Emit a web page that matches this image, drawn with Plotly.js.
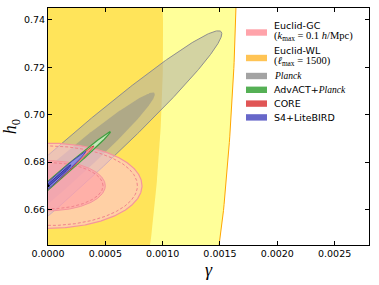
<!DOCTYPE html>
<html><head><meta charset="utf-8">
<script src="https://cdn.plot.ly/plotly-3.0.1.min.js"></script>
<style>html,body{margin:0;padding:0;background:#fff;}#chart{width:379px;height:285px;}</style>
</head><body><div id="chart"></div>
<script>
// ---- data ----
// fiducial point (gamma, h0)
const fiducial = [0, 0.67];
// contour half-axes: [d gamma, d h0] for the major and minor directions
const wlMajor2 = [0.000553, 0.30],   wlMinor2 = [0.001551, 0];
const wlMajor1 = [0.000337, 0.183],  wlMinor1 = [0.000946, 0];
const plMajor2 = [0.00151, 0.065],   plMinor2 = [0.000133, -0.00723];
const plMajor1 = [0.000928, 0.0391], plMinor1 = [0.0000812, -0.0044];
const gcMajor2 = [0.00082, 0],  gcMinor2 = [0, 0.018];
const gcMajor1 = [0.0005, 0],   gcMinor1 = [0, 0.0106];
const gcbMajor2 = [0.00078, 0], gcbMinor2 = [0, 0.0168];
const gcbMajor1 = [0.00048, 0], gcbMinor1 = [0, 0.0098];
const acMajor2 = [0.000545, 0.0228], acMinor2 = [0.000020, -0.0011];
const acMajor1 = [0.000332, 0.0139], acMinor1 = [0.000012, -0.00067];
const coMajor2 = [0.0004, 0.0168],   coMinor2 = [0.000016, -0.00088];
const coMajor1 = [0.000244, 0.01025],coMinor1 = [0.0000098, -0.00054];
const s4Major2 = [0.00033, 0.0145],  s4Minor2 = [0.000016, -0.00085];
const s4Major1 = [0.0002, 0.0088],   s4Minor1 = [0.0000098, -0.00052];

const xTicks = [0, 0.0005, 0.0010, 0.0015, 0.0020, 0.0025];
const yTicks = [0.66, 0.68, 0.70, 0.72, 0.74];

const legendLabels = ['Euclid-GC', 'Euclid-WL',
  '<span style="font-family:\'Liberation Serif\'"><i>Planck</i></span>',
  'AdvACT+<span style="font-family:\'Liberation Serif\'"><i>Planck</i></span>',
  'CORE', 'S4+LiteBIRD'];
const legendNotes = ['(<i>k</i><sub>max</sub> = 0.1 <i>h</i>/Mpc)', '(<i>ℓ</i><sub>max</sub> = 1500)', '', '', '', ''];
const legendColors = ['#FFA3AA', '#FFC455', '#A3A3A3', '#55B055', '#E05555', '#6767C9'];

// ---- build ----
function ellipse(c, maj, mnr) {
  const n = 720, x = [], y = [];
  for (let i = 0; i <= n; i++) {
    const t = 2 * Math.PI * i / n;
    x.push(c[0] + maj[0] * Math.cos(t) + mnr[0] * Math.sin(t));
    y.push(c[1] + maj[1] * Math.cos(t) + mnr[1] * Math.sin(t));
  }
  return {x, y};
}
function region(maj, mnr, fill, line, lw, dash) {
  const e = ellipse(fiducial, maj, mnr);
  return {type: 'scatter', mode: 'lines', x: e.x, y: e.y,
    fill: fill ? 'toself' : 'none', fillcolor: fill || undefined,
    line: {color: line || 'rgba(0,0,0,0)', width: lw || 0, dash: dash || 'solid'},
    hoverinfo: 'skip', showlegend: false};
}

const traces = [
  region(wlMajor2, wlMinor2, '#FFFF99', '#FFA500', 1),
  region(wlMajor1, wlMinor1, '#FFE45A', null, 0),
  region(plMajor2, plMinor2, 'rgba(168,168,172,0.5)', '#8E8E8E', 1),
  region(plMajor1, plMinor1, 'rgba(140,140,140,0.5)', null, 0),
  region(gcMajor2, gcMinor2, 'rgba(255,195,215,0.6)', '#F5959D', 1.2),
  region(gcMajor1, gcMinor1, 'rgba(255,155,170,0.6)', '#F5959D', 1),
  region(gcbMajor2, gcbMinor2, null, '#F0838B', 1, '3px,2px'),
  region(gcbMajor1, gcbMinor1, null, '#F0838B', 1, '3px,2px'),
  region(acMajor2, acMinor2, 'rgba(200,238,192,0.9)', '#3E9E3E', 1.2),
  region(acMajor1, acMinor1, '#8ED08C', '#3E9E3E', 1),
  region(coMajor2, coMinor2, '#EE9A9A', '#D84848', 1),
  region(coMajor1, coMinor1, '#E06060', '#C83A3A', 1),
  region(s4Major2, s4Minor2, '#8C8CE0', '#4646B4', 1),
  region(s4Major1, s4Minor1, '#5555C2', '#30309A', 1),
  {type: 'scatter', mode: 'markers', x: [fiducial[0]], y: [fiducial[1]],
   marker: {color: '#000', size: 3}, cliponaxis: true, hoverinfo: 'skip', showlegend: false}
];

// legend (drawn as annotations + patches)
const L = 48, T = 8, W = 321, H = 237;
const px2x = p => (p - L) / W, py2y = p => (T + H - p) / H;
const annotations = [], shapes = [];
let yy = 25;
legendLabels.forEach((lab, i) => {
  const note = legendNotes[i];
  annotations.push({xref: 'paper', yref: 'paper', x: px2x(272), y: py2y(yy), xanchor: 'left', yanchor: 'middle',
    text: lab, showarrow: false, font: {family: 'DejaVu Sans', size: 9.5, color: '#000'}});
  let pc = yy;
  if (note) {
    annotations.push({xref: 'paper', yref: 'paper', x: px2x(272), y: py2y(yy + 11), xanchor: 'left', yanchor: 'middle',
      text: note, showarrow: false, font: {family: 'Liberation Serif', size: 10.5, color: '#000'}});
    pc = yy + 7.5;
    yy += 25.5;
  } else {
    yy += 13.8;
  }
  shapes.push({type: 'rect', xref: 'paper', yref: 'paper', x0: px2x(246), x1: px2x(267),
    y0: py2y(pc + 3.2), y1: py2y(pc - 3.2), fillcolor: legendColors[i], line: {width: 0}, layer: 'above'});
});

const axisCommon = {showgrid: false, zeroline: false, showline: true, linecolor: '#000', linewidth: 1,
  mirror: 'ticks', ticks: 'inside', ticklen: 4, tickwidth: 1, tickcolor: '#000',
  tickfont: {family: 'DejaVu Sans', size: 9.5, color: '#000'}};

const layout = {
  width: 379, height: 285, margin: {l: L, r: 379 - L - W, t: T, b: 285 - T - H},
  paper_bgcolor: '#fff', plot_bgcolor: '#fff', showlegend: false,
  xaxis: Object.assign({}, axisCommon, {range: [0, 0.0028], tickvals: xTicks, tickformat: '.4f',
    title: {text: '<i>γ</i>', font: {family: 'Liberation Serif', size: 18, color: '#000'}, standoff: 4}}),
  yaxis: Object.assign({}, axisCommon, {range: [0.645, 0.745], tickvals: yTicks, tickformat: '.2f',
    title: {text: '<i>h</i><sub>0</sub>', font: {family: 'Liberation Serif', size: 18, color: '#000'}, standoff: 4}}),
  annotations, shapes
};
Plotly.newPlot('chart', traces, layout, {staticPlot: true, displayModeBar: false});
</script></body></html>
